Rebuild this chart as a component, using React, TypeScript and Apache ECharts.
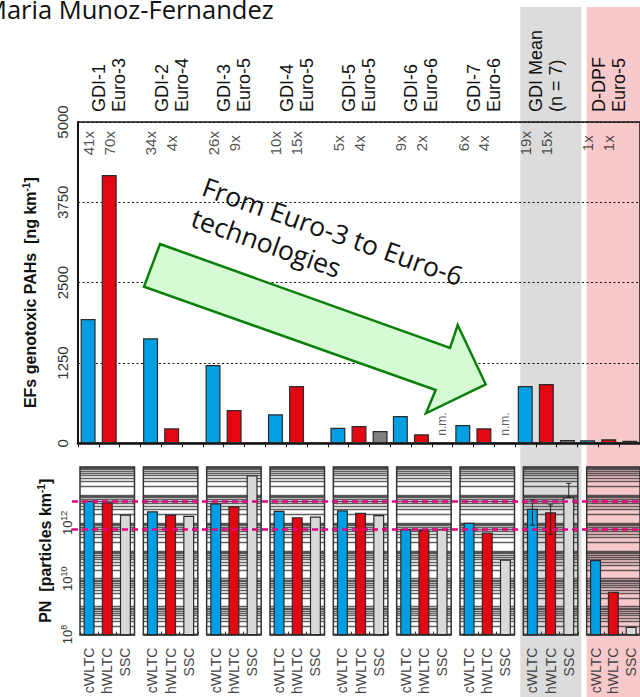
import React, { useEffect, useRef } from "react";
import * as echarts from "echarts";

// ---------------- data ----------------
const groupLabels = [
  "GDI-1\nEuro-3",
  "GDI-2\nEuro-4",
  "GDI-3\nEuro-5",
  "GDI-4\nEuro-5",
  "GDI-5\nEuro-5",
  "GDI-6\nEuro-6",
  "GDI-7\nEuro-6",
  "GDI Mean\n(n = 7)",
  "D-DPF\nEuro-5",
];
const testLabels = ["cWLTC", "hWLTC", "SSC"];

// EFs genotoxic PAHs [ng/km]
const pahCold = [1934, 1634, 1218, 451, 243, 425, 285, 892, 47];
const pahHot = [4175, 233, 518, 892, 269, 140, 233, 923, 62];
const pahSsc = [20, null, 20, 15, 191, null, null, 51, 40];
const sscNotMeasured = [false, false, false, false, false, true, true, false, false];
const repsCold = [41, 34, 26, 10, 5, 9, 6, 19, 1];
const repsHot = [70, 4, 9, 15, 4, 2, 4, 15, 1];
const pahTicks = [0, 1250, 2500, 3750, 5000];

// PN [particles/km]
const pnCold = [6.2e12, 2.6e12, 5.0e12, 2.7e12, 2.8e12, 6.0e11, 1.0e12, 3.2e12, 4.7e10];
const pnHot = [5.5e12, 2.0e12, 3.9e12, 1.6e12, 2.3e12, 5.5e11, 4.5e11, 2.4e12, 3.4e9];
const pnSsc = [2.0e12, 1.8e12, 5.0e13, 1.7e12, 1.9e12, 5.9e11, 4.9e10, 8.3e12, 1.9e8];
const pnMeanLow = [8.3e11, 3.9e11, 8.3e12];
const pnMeanHigh = [6.6e12, 4.4e12, 2.6e13];
const pnLimits = [6e11, 6e12];
const pnRange = [1e8, 1e14];
const pnLabelExponents = [8, 10, 12];

// ---------------- styling / layout ----------------
const BLUE = "#009fe3";
const RED = "#e30613";
const GRAY_TOP = "#808080";
const GRAY_BOT = "#d9d9d9";
const EDGE = "#2b2b2b";

const TOP_L = 78;
const TOP_T = 122;
const TOP_W = 570;
const TOP_H = 321.3;
const GROUP = TOP_W / groupLabels.length;
const BOT_T = 467;
const BOT_H = 169;
const BOT_W = 54.5;
const BOT_SHIFT = 2;
const REPS_Y = 4670;
const NM_Y = 300;
const MEAN_IDX = 7;
const DPF_IDX = 8;

export default function App() {
  const ref = useRef<HTMLDivElement>(null);

  useEffect(() => {
    if (!ref.current) return;
    const chart = echarts.init(ref.current, null, { renderer: "svg" });

    const nG = groupLabels.length;
    const slotNames = groupLabels.flatMap((g) =>
      testLabels.map((t) => g.replace("\n", " ") + " " + t)
    );

    // log grid lines 1..9 x 10^n
    const logLines: number[] = [];
    const e0 = Math.round(Math.log10(pnRange[0]));
    const e1 = Math.round(Math.log10(pnRange[1]));
    for (let e = e0; e < e1; e++) {
      for (let k = 1; k <= 9; k++) logLines.push(k * Math.pow(10, e));
    }
    logLines.push(pnRange[1]);

    const grids: any[] = [
      {
        left: TOP_L,
        top: TOP_T,
        width: TOP_W,
        height: TOP_H,
        show: true,
        borderColor: "#111",
        borderWidth: 1.5,
        backgroundColor: "transparent",
      },
    ];
    for (let i = 0; i < nG; i++) {
      grids.push({
        left: TOP_L + BOT_SHIFT + i * GROUP,
        top: BOT_T,
        width: BOT_W,
        height: BOT_H,
        show: true,
        borderColor: "#333",
        borderWidth: 1.5,
        backgroundColor: "transparent",
      });
    }
    grids.push({ left: TOP_L - 6, top: BOT_T, width: 600, height: BOT_H, show: false });
    const limitGrid = grids.length - 1;

    const xAxes: any[] = [
      {
        type: "category",
        gridIndex: 0,
        data: groupLabels,
        position: "top",
        axisLine: { show: false },
        axisTick: { show: false },
        axisLabel: {
          interval: 0,
          rotate: 90,
          margin: 10,
          fontSize: 18,
          lineHeight: 20,
          color: "#111",
          padding: [0, 0, 14, 0],
        },
      },
      {
        type: "category",
        gridIndex: 0,
        data: slotNames,
        position: "bottom",
        axisLine: { show: true, lineStyle: { color: "#111", width: 2.5 } },
        axisTick: { show: true, length: 4, interval: 0, lineStyle: { color: "#111" } },
        axisLabel: { show: false },
      },
    ];
    const yAxes: any[] = [
      {
        type: "value",
        gridIndex: 0,
        min: pahTicks[0],
        max: pahTicks[pahTicks.length - 1],
        interval: pahTicks[1] - pahTicks[0],
        axisLine: { show: true, lineStyle: { color: "#111", width: 2 } },
        axisTick: { show: false },
        axisLabel: {
          rotate: 90,
          margin: 8,
          fontSize: 15,
          color: "#333",
          formatter: (v: number) => String(v),
        },
        splitLine: { show: true, lineStyle: { color: "#111", type: [2, 2.5], width: 1.2 } },
        name: "{n|EFs genotoxic PAHs  [ng km}{s|-1}{n|]}",
        nameLocation: "middle",
        nameGap: 39,
        nameTextStyle: {
          padding: [0, 20, 0, 0],
          rich: {
            n: { fontSize: 16, fontWeight: "bold", color: "#111", lineHeight: 18 },
            s: { fontSize: 10, fontWeight: "bold", color: "#111", verticalAlign: "top", lineHeight: 10 },
          },
        },
      },
    ];

    const series: any[] = [
      {
        type: "bar",
        name: "cWLTC",
        xAxisIndex: 0,
        yAxisIndex: 0,
        data: pahCold,
        barWidth: 15,
        barGap: "40.7%",
        itemStyle: { color: BLUE, borderColor: EDGE, borderWidth: 1.2 },
        z: 3,
      },
      {
        type: "bar",
        name: "hWLTC",
        xAxisIndex: 0,
        yAxisIndex: 0,
        data: pahHot,
        barWidth: 15,
        barGap: "40.7%",
        itemStyle: { color: RED, borderColor: EDGE, borderWidth: 1.2 },
        z: 3,
      },
      {
        type: "bar",
        name: "SSC",
        xAxisIndex: 0,
        yAxisIndex: 0,
        data: pahSsc,
        barWidth: 15,
        barGap: "40.7%",
        itemStyle: { color: GRAY_TOP, borderColor: EDGE, borderWidth: 1.2 },
        z: 3,
      },
      {
        type: "scatter",
        xAxisIndex: 1,
        yAxisIndex: 0,
        symbolSize: 0,
        silent: true,
        z: 5,
        data: groupLabels.flatMap((g, i) => [
          { name: `${repsCold[i]}x`, value: [3 * i, REPS_Y] },
          { name: `${repsHot[i]}x`, value: [3 * i + 1, REPS_Y] },
        ]),
        label: {
          show: true,
          position: "inside",
          rotate: 90,
          formatter: "{b}",
          fontSize: 15,
          color: "#222",
        },
      },
      {
        type: "scatter",
        xAxisIndex: 1,
        yAxisIndex: 0,
        symbolSize: 0,
        silent: true,
        z: 5,
        data: groupLabels
          .map((g, i) => (sscNotMeasured[i] ? { name: "n.m.", value: [3 * i + 2, NM_Y] } : null))
          .filter((d) => d !== null),
        label: {
          show: true,
          position: "inside",
          rotate: 90,
          formatter: "{b}",
          fontSize: 12,
          color: "#333",
        },
      },
    ];

    const pnSeriesData = [pnCold, pnHot, pnSsc];
    const pnColors = [BLUE, RED, GRAY_BOT];

    for (let i = 0; i < nG; i++) {
      const xi = xAxes.length;
      const yi = yAxes.length;
      xAxes.push({
        type: "category",
        gridIndex: 1 + i,
        data: testLabels,
        axisLine: { show: true, lineStyle: { color: "#333", width: 1.5 } },
        axisTick: { show: true, inside: true, length: 3, lineStyle: { color: "#333" } },
        axisLabel: { interval: 0, rotate: 90, margin: 13, fontSize: 14, color: "#444" },
      });
      const yAx: any = {
        type: "log",
        logBase: 10,
        gridIndex: 1 + i,
        min: pnRange[0],
        max: pnRange[1],
        axisLine: { show: false },
        axisTick: { show: false },
        splitLine: { show: false },
        axisLabel: { show: false },
      };
      if (i === 0) {
        yAx.axisLabel = {
          show: true,
          margin: 5,
          rotate: 90,
          formatter: (v: number) => {
            const e = Math.round(Math.log10(v));
            return pnLabelExponents.includes(e) ? `{b|10}{s|${e}}` : "";
          },
          rich: {
            b: { fontSize: 13, color: "#333", lineHeight: 16 },
            s: { fontSize: 9, color: "#333", verticalAlign: "top", lineHeight: 9 },
          },
        };
        yAx.name = "{n|PN  [particles km}{s|-1}{n|]}";
        yAx.nameLocation = "middle";
        yAx.nameGap = 26;
        yAx.nameTextStyle = {
          rich: {
            n: { fontSize: 16, fontWeight: "bold", color: "#111", lineHeight: 18 },
            s: { fontSize: 10, fontWeight: "bold", color: "#111", verticalAlign: "top", lineHeight: 10 },
          },
        };
      }
      yAxes.push(yAx);
      series.push({
        type: "bar",
        xAxisIndex: xi,
        yAxisIndex: yi,
        barWidth: 11,
        z: 3,
        data: testLabels.map((t, j) => ({
          value: pnSeriesData[j][i],
          itemStyle: { color: pnColors[j], borderColor: EDGE, borderWidth: 1.2 },
        })),
        markLine: {
          silent: true,
          z: 1,
          symbol: ["none", "none"],
          label: { show: false },
          lineStyle: { color: "#3a3a3a", width: 1.3, type: "solid", opacity: 0.8 },
          data: logLines.map((v) => ({ yAxis: v })),
        },
      });
      if (i === MEAN_IDX) {
        series.push({
          type: "custom",
          xAxisIndex: xi,
          yAxisIndex: yi,
          z: 6,
          silent: true,
          data: testLabels.map((t, j) => [j, pnMeanLow[j], pnMeanHigh[j]]),
          renderItem: (params: any, api: any) => {
            const x = api.value(0);
            const lo = api.coord([x, api.value(1)]);
            const hi = api.coord([x, api.value(2)]);
            const c = 2.5;
            const st = { stroke: "#222", lineWidth: 1 };
            return {
              type: "group",
              children: [
                { type: "line", shape: { x1: lo[0], y1: lo[1], x2: hi[0], y2: hi[1] }, style: st },
                { type: "line", shape: { x1: hi[0] - c, y1: hi[1], x2: hi[0] + c, y2: hi[1] }, style: st },
                { type: "line", shape: { x1: lo[0] - c, y1: lo[1], x2: lo[0] + c, y2: lo[1] }, style: st },
              ],
            };
          },
        });
      }
    }

    // limit lines across all PN panels
    const lxi = xAxes.length;
    const lyi = yAxes.length;
    xAxes.push({ type: "value", gridIndex: limitGrid, min: 0, max: 1, show: false });
    yAxes.push({ type: "log", logBase: 10, gridIndex: limitGrid, min: pnRange[0], max: pnRange[1], show: false });
    series.push({
      type: "line",
      xAxisIndex: lxi,
      yAxisIndex: lyi,
      data: [],
      z: 10,
      markLine: {
        silent: true,
        z: 10,
        symbol: ["none", "none"],
        label: { show: false },
        lineStyle: { color: "#e6007e", width: 2.5, type: [6, 4] },
        data: pnLimits.map((v) => ({ yAxis: v })),
      },
    });

    const meanLeft = TOP_L + MEAN_IDX * GROUP - 1;
    const dpfLeft = TOP_L + DPF_IDX * GROUP + 2;

    const option: any = {
      animation: false,
      textStyle: { fontFamily: "Liberation Sans, Arial, sans-serif" },
      grid: grids,
      xAxis: xAxes,
      yAxis: yAxes,
      series,
      graphic: [
        {
          type: "rect",
          z: -10,
          silent: true,
          shape: { x: meanLeft, y: 7, width: 61, height: 700 },
          style: { fill: "#dcdcdc" },
        },
        {
          type: "rect",
          z: -10,
          silent: true,
          shape: { x: dpfLeft, y: 7, width: 80, height: 700 },
          style: { fill: "#f8c9cb" },
        },
        {
          type: "text",
          x: -16,
          y: -4,
          z: 20,
          style: {
            text: "Maria Munoz-Fernandez",
            fontSize: 25.5,
            fontFamily: "Open Sans",
            fill: "#111",
            align: "left",
            verticalAlign: "top",
          },
        },
        {
          type: "polygon",
          z: 50,
          silent: true,
          shape: {
            points: [
              [160, 244],
              [450, 348],
              [457.7, 325],
              [485.7, 384.3],
              [426, 413.3],
              [435.7, 390],
              [144, 286.7],
            ],
          },
          style: { fill: "#d4fbd4", stroke: "#0a800a", lineWidth: 2.5, lineJoin: "miter" },
        },
        {
          type: "text",
          x: 209,
          y: 170,
          z: 51,
          rotation: -0.34,
          style: {
            text: "From Euro-3 to Euro-6\ntechnologies",
            fontSize: 26.5,
            lineHeight: 33,
            fontFamily: "Open Sans",
            fill: "#111",
            align: "left",
            verticalAlign: "top",
          },
        },
      ],
    };

    chart.setOption(option);
    return () => chart.dispose();
  }, []);

  return (
    <div
      ref={ref}
      style={{ position: "fixed", left: 0, top: 0, width: 640, height: 697, background: "#fff" }}
    />
  );
}
